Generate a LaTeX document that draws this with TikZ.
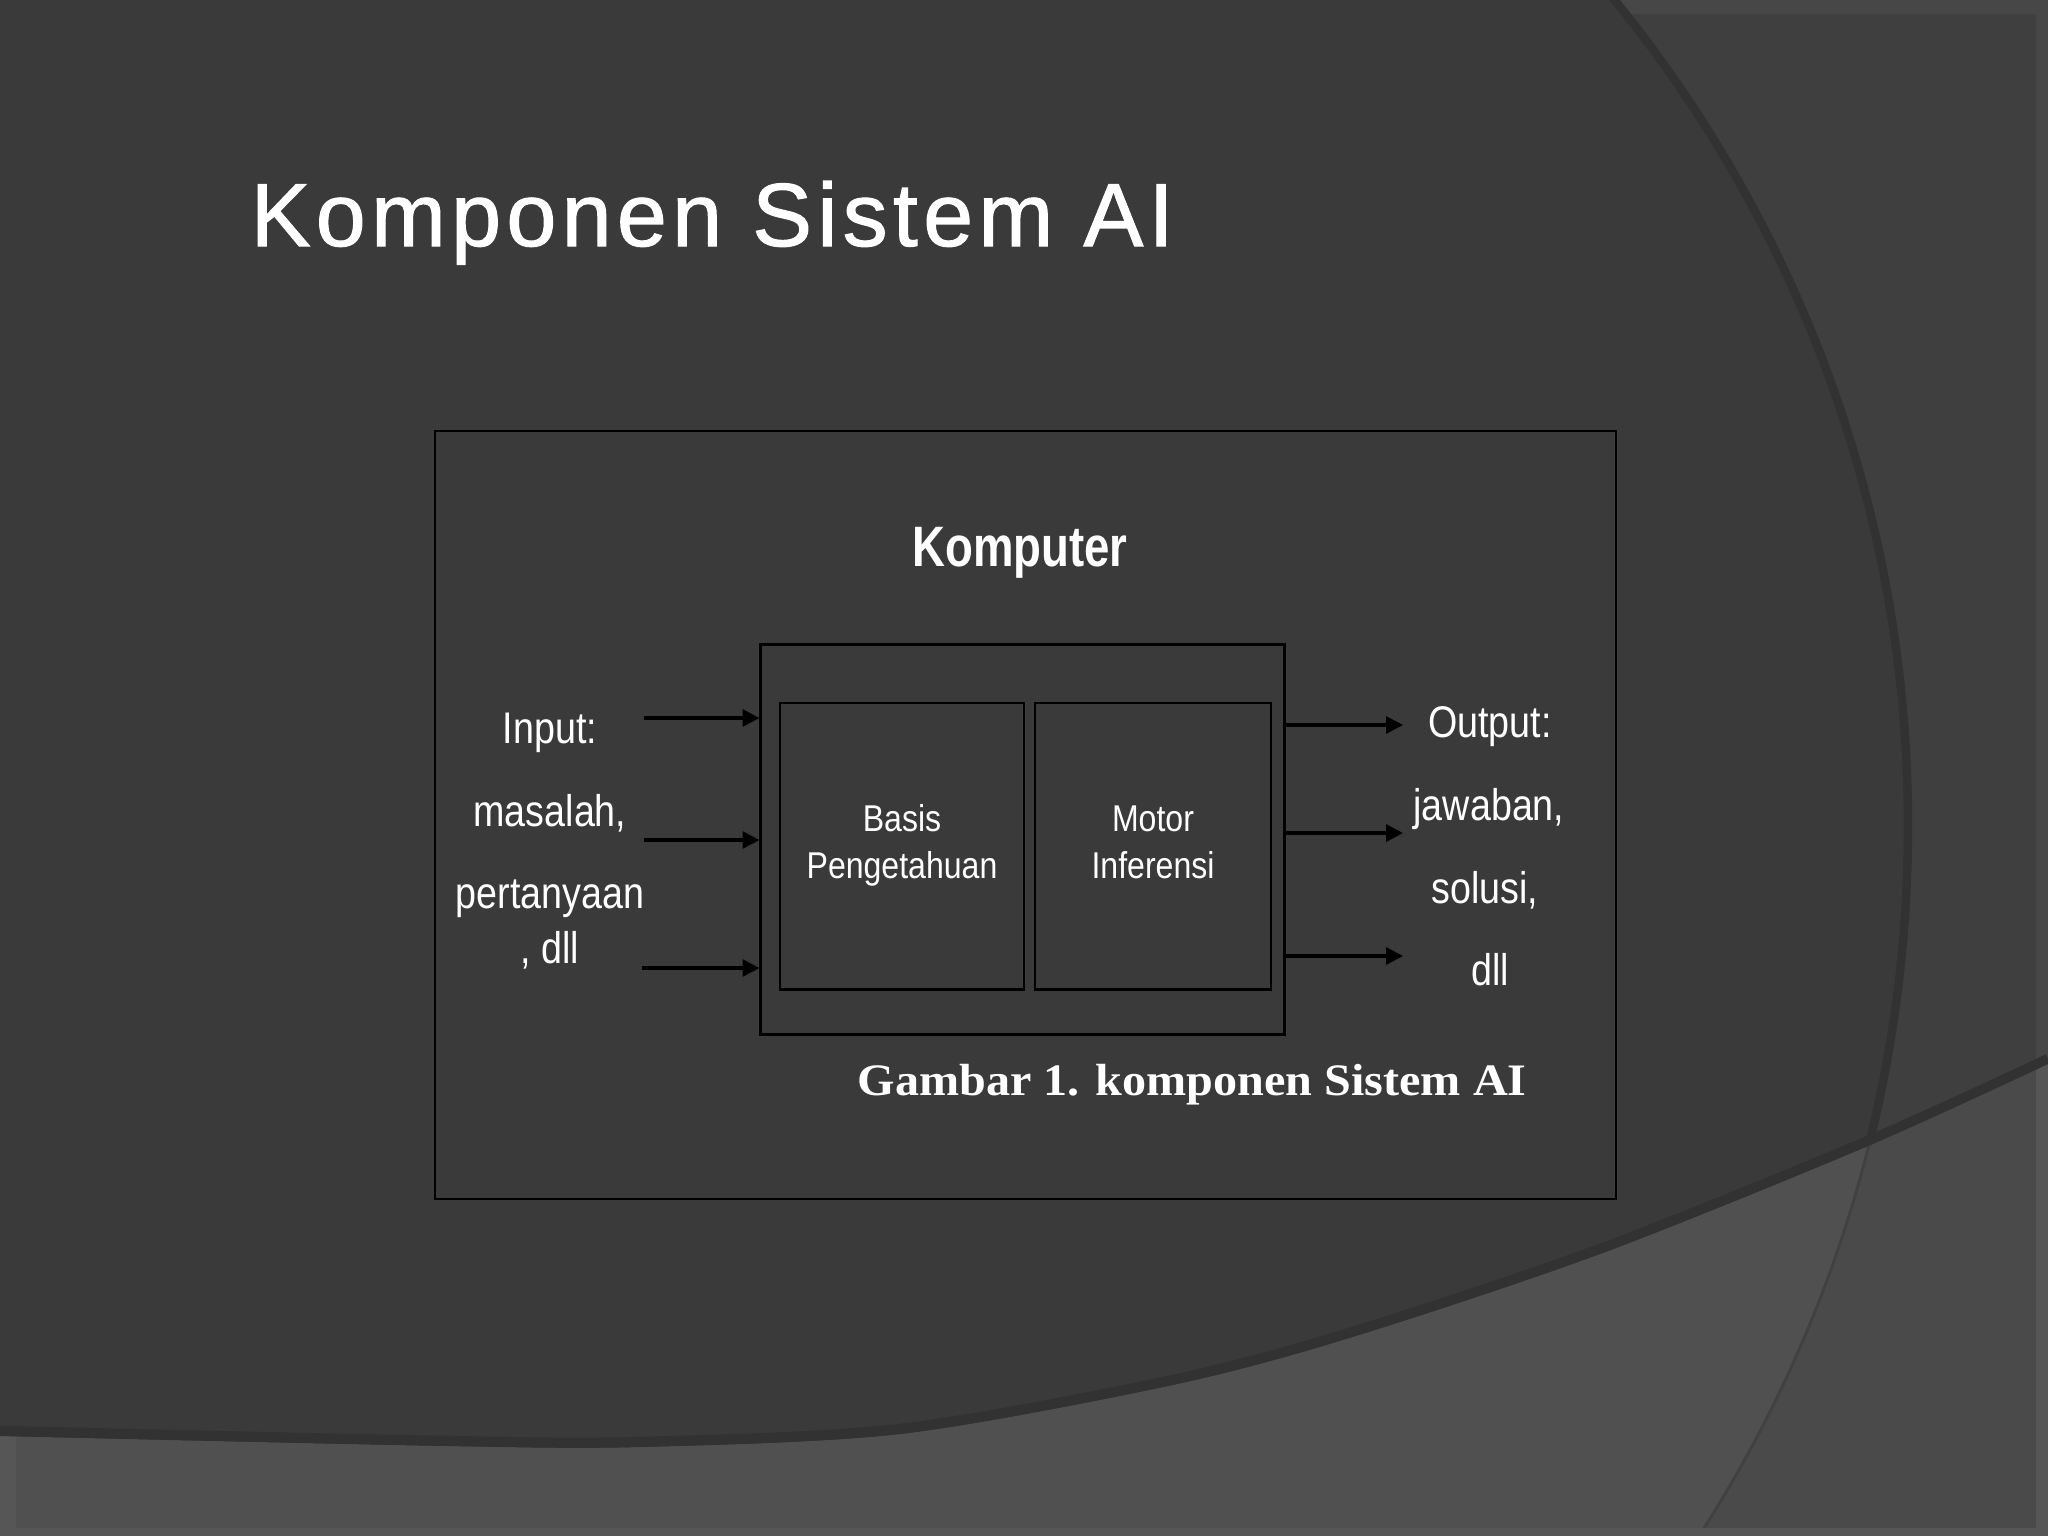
\documentclass[tikz,border=0pt]{standalone}
\usepackage{fontspec}
\setmainfont{Liberation Sans}
\newfontfamily\titlefont[LetterSpace=6,FakeBold=1.2]{Liberation Sans}
\newfontfamily\narrowfont[FakeStretch=0.85]{Liberation Sans}
\newfontfamily\kompfont[FakeStretch=0.80]{Liberation Sans}
\newfontfamily\boxfont[FakeStretch=0.86]{Liberation Sans}
\newfontfamily\capfont[FakeStretch=1.07]{Liberation Serif}
\usepackage{xcolor}
\usetikzlibrary{arrows.meta}

\definecolor{slidebg}{HTML}{3A3A3A}
\definecolor{slideright}{HTML}{3F3F3F}
\definecolor{slidelow}{HTML}{505050}
\definecolor{slidelowright}{HTML}{4A4A4A}
\definecolor{slideshade}{HTML}{323232}
\definecolor{slideedge}{HTML}{565656}

\begin{document}
\begin{tikzpicture}[x=0.01cm,y=-0.01cm,
  arr/.style={black,line width=0.95pt,-{Triangle[length=4.8pt,width=4.8pt]}},
  lbl/.style={text=white,anchor=base,font=\narrowfont\fontsize{12.6}{15}\selectfont},
  blk/.style={draw=black,line width=0.8pt,text=white,align=center,
    font=\boxfont\fontsize{10.6}{13.4}\selectfont}]
\tikzstyle{every node}+=[inner sep=0pt]
\useasboundingbox (0,0) rectangle (2048,1536);
% background of the slide
\fill [slidebg] (0,0) rectangle (2048,1536);
\fill [slideright,even odd rule] (0,0) rectangle (2048,1536) (599,826) circle (1309);
\begin{scope}[even odd rule]
\clip (0,0) rectangle (2048,1536) (599,826) circle (1309);
\fill [slideright!96!white] (0,0) rectangle (2048,14);
\fill [slideright!96!white] (2036,0) rectangle (2048,1536);
\end{scope}
\fill [slidelow] plot[smooth] coordinates {(0,1436) (446,1446) (640,1447) (900,1434) (1168,1386) (1346,1339) (1600,1254) (1868,1146) (2048,1064)} -- (2048,1536) -- (0,1536) -- cycle;
\begin{scope}
\clip plot[smooth] coordinates {(0,1436) (446,1446) (640,1447) (900,1434) (1168,1386) (1346,1339) (1600,1254) (1868,1146) (2048,1064)} -- (2048,1536) -- (0,1536) -- cycle;
\fill [slidelowright,even odd rule] (0,0) rectangle (2048,1536) (599,826) circle (1309);
\draw [slidelowright!88!black,line width=0.8pt] (599,826) circle (1309);
\fill [slideedge] (0,1400) rectangle (16,1536);
\fill [slideedge] (0,1528) rectangle (2048,1536);
\fill [slideedge] (2036,1000) rectangle (2048,1536);
\end{scope}
\begin{scope}
\clip (0,0) -- (0,1436) -- plot[smooth] coordinates {(0,1436) (446,1446) (640,1447) (900,1434) (1168,1386) (1346,1339) (1600,1254) (1868,1146) (2048,1064)} -- (2048,0) -- cycle;
\draw [slideshade,line width=2.4pt] (599,826) circle (1309);
\draw [slideshade,line width=3pt,yshift=1.4pt] plot[smooth] coordinates {(0,1436) (446,1446) (640,1447) (900,1434) (1168,1386) (1346,1339) (1600,1254) (1868,1146) (2048,1064)};
\end{scope}

% title
\node [anchor=base west,text=white,font=\titlefont\fontsize{25.5}{30}\selectfont] (judul) at (250,246) {Komponen Sistem AI};

% the figure
\node [draw=black,line width=0.5pt,minimum width=11.81cm,minimum height=7.68cm] (komp) at (1025.5,815) {};
\node [text=white,anchor=base,font=\kompfont\bfseries\fontsize{16.2}{19}\selectfont] (kompt) at (1020,566) {Komputer};
\node [draw=black,line width=0.8pt,minimum width=5.23cm,minimum height=3.89cm] (mesin) at (1022.5,839.5) {};
\node [blk,minimum width=2.44cm,minimum height=2.86cm] (basis) at (902,846) {\strut Basis\\Pengetahuan\strut};
\node [blk,minimum width=2.36cm,minimum height=2.86cm] (motor) at (1153,846) {\strut Motor\\Inferensi\strut};

\node [lbl] (inp) at (550,743) {Input:};
\node [lbl] (inm) at (550,826) {masalah,};
\node [lbl] (inq) at (550,908) {pertanyaan};
\node [lbl] (ind) at (550,963) {, dll};

\node [lbl] (outp) at (1490,737) {Output:};
\node [lbl] (outj) at (1489,820) {jawaban,};
\node [lbl] (outs) at (1485,903) {solusi,};
\node [lbl] (outd) at (1490,985) {dll};

\coordinate (in1) at (644,718);
\coordinate (in2) at (644,840);
\coordinate (in3) at (642,968);
\coordinate (out1) at (1403,725);
\coordinate (out2) at (1403,833);
\coordinate (out3) at (1403,956);
\draw [arr] (in1) -- (in1 -| mesin.west);
\draw [arr] (in2) -- (in2 -| mesin.west);
\draw [arr] (in3) -- (in3 -| mesin.west);
\draw [arr] (out1 -| mesin.east) -- (out1);
\draw [arr] (out2 -| mesin.east) -- (out2);
\draw [arr] (out3 -| mesin.east) -- (out3);

\node [anchor=base west,text=white,font=\capfont\bfseries\fontsize{12.8}{15}\selectfont] (gbr) at (857,1095) {Gambar 1. komponen Sistem AI};
\end{tikzpicture}
\end{document}
